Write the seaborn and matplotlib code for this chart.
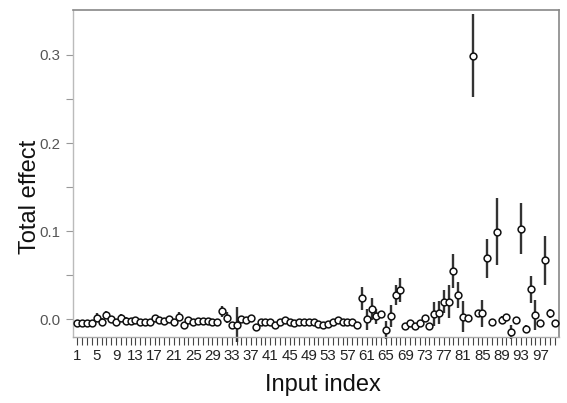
import numpy as np
import pandas as pd
import matplotlib
matplotlib.use("Agg")
import matplotlib.pyplot as plt
import seaborn as sns

# ---- data -------------------------------------------------------------
input_index = list(range(1, 101))
total_effect = [
    -0.004, -0.004, -0.004, -0.004, 0.002, -0.003, 0.005, 0.000, -0.003, 0.002,
    -0.002, -0.002, -0.001, -0.003, -0.003, -0.003, 0.001, -0.001, -0.002, 0.000,
    -0.003, 0.003, -0.007, -0.001, -0.003, -0.002, -0.002, -0.002, -0.003, -0.003,
    0.009, 0.002, -0.007, -0.006, 0.000, -0.001, 0.001, -0.009, -0.003, -0.003,
    -0.003, -0.0065, -0.003, -0.001, -0.003, -0.004, -0.003, -0.003, -0.003, -0.003,
    -0.005, -0.007, -0.005, -0.003, -0.001, -0.003, -0.003, -0.003, -0.0065, 0.024,
    0.000, 0.0117, 0.0037, 0.0057, -0.012, 0.0037, 0.0276, 0.033, -0.0076, -0.0045,
    -0.008, -0.0045, 0.001, -0.008, 0.006, 0.0075, 0.020, 0.020, 0.055, 0.0276,
    0.003, 0.0011, 0.299, 0.0068, 0.0068, 0.069, -0.0034, 0.0994, -0.0008, 0.0022,
    -0.014, -0.0008, 0.103, -0.011, 0.034, 0.0049, -0.0045, 0.067, 0.0068, -0.0038,
]
effect_err = [
    0.0, 0.0, 0.0, 0.0, 0.005, 0.004, 0.004, 0.003, 0.003, 0.004,
    0.005, 0.004, 0.002, 0.0, 0.0, 0.0, 0.002, 0.0, 0.0, 0.003,
    0.003, 0.005, 0.002, 0.0, 0.0, 0.0, 0.0, 0.0, 0.0, 0.0,
    0.006, 0.006, 0.003, 0.020, 0.004, 0.003, 0.002, 0.0, 0.0, 0.0,
    0.0, 0.0, 0.0, 0.0, 0.0, 0.0, 0.0, 0.0, 0.0, 0.0,
    0.0, 0.0, 0.0, 0.0, 0.0, 0.0, 0.0, 0.0, 0.0, 0.013,
    0.012, 0.0125, 0.0085, 0.003, 0.010, 0.012, 0.0115, 0.0135, 0.0, 0.004,
    0.004, 0.002, 0.002, 0.003, 0.014, 0.013, 0.013, 0.019, 0.019, 0.015,
    0.0175, 0.0, 0.047, 0.004, 0.015, 0.022, 0.0, 0.038, 0.004, 0.004,
    0.008, 0.0, 0.029, 0.005, 0.015, 0.017, 0.0, 0.028, 0.005, 0.0,
]
x_tick_labels = [str(i) for i in range(1, 101, 4)]
y_ticks = [0.0, 0.1, 0.2, 0.3]

df = pd.DataFrame({"index": input_index, "effect": total_effect, "err": effect_err})

# ---- figure -----------------------------------------------------------
sns.set_style("white")
plt.rcParams["font.family"] = ["Liberation Sans", "DejaVu Sans"]

fig = plt.figure(figsize=(5.67, 4.03), dpi=100)
ax = fig.add_axes([73 / 567, 1 - 337 / 403, (559 - 73) / 567, (337 - 10) / 403])

ax.vlines(df["index"], df["effect"] - df["err"], df["effect"] + df["err"],
          colors="#333333", linewidth=1.7, zorder=2, clip_on=False)
sns.scatterplot(data=df, x="index", y="effect", ax=ax, marker="o", s=24,
                facecolor="white", edgecolor="#111111", linewidth=1.1,
                zorder=3, legend=False)

ax.set_xlim(0.07, 100.9)
ax.set_ylim(-0.0201, 0.351)

ax.set_xticks(list(range(1, 101, 4)))
ax.set_xticklabels(x_tick_labels)
ax.set_xticks(input_index, minor=True)
ax.set_yticks(y_ticks)
ax.set_yticklabels([f"{v:.1f}" for v in y_ticks])
ax.set_yticks([0.05, 0.15, 0.25], minor=True)

ax.tick_params(axis="x", which="major", direction="out", length=6, width=0.8,
               color="#444444", labelsize=10.8, labelcolor="#222222", pad=3,
               bottom=True)
ax.tick_params(axis="x", which="minor", direction="out", length=6, width=0.8,
               color="#444444", bottom=True)
ax.tick_params(axis="y", which="both", direction="out", length=5, width=0.8,
               color="#999999", labelsize=10.8, labelcolor="#555555", pad=4,
               left=True)

for side in ["top", "right"]:
    ax.spines[side].set_color("#888888")
    ax.spines[side].set_linewidth(1.2)
ax.spines["left"].set_color("#bbbbbb")
ax.spines["left"].set_linewidth(1.0)
ax.spines["bottom"].set_color("#aaaaaa")
ax.spines["bottom"].set_linewidth(1.0)

ax.set_xlabel("Input index", fontsize=17, color="#111111")
ax.set_ylabel("Total effect", fontsize=17, color="#111111")
ax.xaxis.set_label_coords(0.514, -0.112)
ax.yaxis.set_label_coords(-0.066, 0.43)

fig.savefig("out.png", dpi=100)
